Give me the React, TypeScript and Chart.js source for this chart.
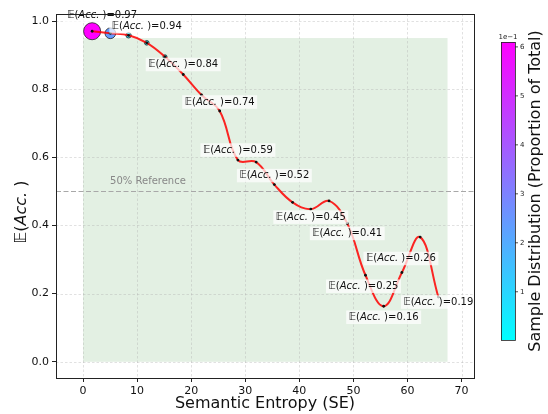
import React, { useEffect, useRef } from 'react';
import { Chart, registerables } from 'chart.js';
Chart.register(...registerables);

// ---- data ----
const seCenters = [1.68, 5.05, 8.42, 11.79, 15.16, 18.53, 21.9, 25.27, 28.64, 32.01, 35.38, 38.75, 42.12, 45.49, 48.86, 52.23, 55.6, 58.97, 62.34, 65.71];
const accValues = [0.97, 0.964, 0.958, 0.936, 0.895, 0.843, 0.783, 0.736, 0.592, 0.586, 0.52, 0.468, 0.448, 0.472, 0.406, 0.254, 0.163, 0.262, 0.366, 0.19];
const sampleShare = [0.61, 0.24, 0.061, 0.045, 0.034, 0.004, 0.003, 0.0025, 0.002, 0.002, 0.0018, 0.0018, 0.0017, 0.0016, 0.0016, 0.0015, 0.0015, 0.0015, 0.0015, 0.0015];
const labelIndices = [0, 3, 5, 7, 8, 10, 12, 14, 15, 16, 17, 19];
const xTicks = [0, 10, 20, 30, 40, 50, 60, 70];
const yTicks = [0, 0.2, 0.4, 0.6, 0.8, 1.0];
const cbTicks = [0.1, 0.2, 0.3, 0.4, 0.5, 0.6];
const cbTickLabels = ['1', '2', '3', '4', '5', '6'];
const regionX = [0, 67.4];
const regionYTop = 0.95;
const refY = 0.5;

// ---- styling ----
const FONT = '"DejaVu Sans", "Noto Sans", sans-serif';
const labelOffsets: number[][] = [[10, -16], [0, -16], [0, -10], [0, -9], [0, -10], [0, -9], [0, 8], [0, 10], [-2, 11], [0, 11], [-1, -14], [0, 5]];

const cbMin = Math.min(...sampleShare);
const cbMax = Math.max(...sampleShare);
function coolColor(v: number) {
  let t = (v - cbMin) / (cbMax - cbMin);
  t = Math.max(0, Math.min(1, t));
  return `rgb(${Math.round(255 * t)},${Math.round(255 * (1 - t))},255)`;
}

function drawMath(ctx: CanvasRenderingContext2D, tail: string, size: number, cx: number, cy: number, box: boolean) {
  const fN = `${size}px ${FONT}`;
  const fI = `italic ${size}px ${FONT}`;
  const parts: [string, string][] = [['𝔼', fN], ['(', fN], ['Acc.', fI], [' )' + tail, fN]];
  const widths = parts.map(([t, f]) => { ctx.font = f; return ctx.measureText(t).width; });
  const total = widths.reduce((a, b) => a + b, 0);
  if (box) {
    const pad = 2.5, h = size + 3.5;
    ctx.fillStyle = 'rgba(255,255,255,0.72)';
    ctx.fillRect(cx - total / 2 - pad, cy - h / 2, total + 2 * pad, h);
  }
  let x = cx - total / 2;
  ctx.textBaseline = 'middle';
  ctx.textAlign = 'left';
  parts.forEach(([t, f], i) => {
    ctx.font = f;
    ctx.fillStyle = '#111';
    ctx.fillText(t, x, cy);
    x += widths[i];
  });
}

const decor = {
  id: 'decor',
  beforeDatasetsDraw(chart: any) {
    const { ctx, chartArea: a, scales } = chart;
    const x = scales.x, y = scales.y;
    ctx.save();
    ctx.beginPath();
    ctx.rect(a.left, a.top, a.right - a.left, a.bottom - a.top);
    ctx.clip();
    const x0 = x.getPixelForValue(regionX[0]), x1 = x.getPixelForValue(regionX[1]);
    const y0 = y.getPixelForValue(0), y1 = y.getPixelForValue(regionYTop);
    ctx.fillStyle = 'rgba(200,225,200,0.5)';
    ctx.fillRect(x0, y1, x1 - x0, y0 - y1);
    ctx.strokeStyle = 'rgba(170,170,170,0.45)';
    ctx.lineWidth = 0.8;
    ctx.setLineDash([2.5, 2]);
    xTicks.forEach(v => {
      const px = Math.round(x.getPixelForValue(v)) + 0.5;
      ctx.beginPath(); ctx.moveTo(px, a.top); ctx.lineTo(px, a.bottom); ctx.stroke();
    });
    yTicks.forEach(v => {
      const py = Math.round(y.getPixelForValue(v)) + 0.5;
      ctx.beginPath(); ctx.moveTo(a.left, py); ctx.lineTo(a.right, py); ctx.stroke();
    });
    const ry = Math.round(y.getPixelForValue(refY)) + 0.5;
    ctx.strokeStyle = '#a8a8a8';
    ctx.lineWidth = 1;
    ctx.setLineDash([5, 2.5]);
    ctx.beginPath(); ctx.moveTo(a.left, ry); ctx.lineTo(a.right, ry); ctx.stroke();
    ctx.setLineDash([]);
    ctx.fillStyle = '#888';
    ctx.font = `10px ${FONT}`;
    ctx.textBaseline = 'middle';
    ctx.textAlign = 'left';
    ctx.fillText('50% Reference', x.getPixelForValue(5), ry - 10);
    ctx.restore();
  },
  afterDatasetsDraw(chart: any) {
    const { ctx } = chart;
    const meta = chart.getDatasetMeta(0);
    ctx.save();
    labelIndices.forEach((idx, k) => {
      const pt = meta.data[idx];
      const [dx, dy] = labelOffsets[k];
      drawMath(ctx, '=' + (Math.round(accValues[idx] * 100) / 100).toFixed(2), 10, pt.x + dx, pt.y + dy, true);
    });
    ctx.restore();
  },
  afterDraw(chart: any) {
    const { ctx, chartArea: a } = chart;
    ctx.save();
    // frame
    ctx.strokeStyle = '#222';
    ctx.lineWidth = 1;
    ctx.strokeRect(Math.round(a.left) + 0.5, Math.round(a.top) + 0.5, Math.round(a.right - a.left), Math.round(a.bottom - a.top));
    // x title
    ctx.fillStyle = '#111';
    ctx.font = `16px ${FONT}`;
    ctx.textAlign = 'center';
    ctx.textBaseline = 'middle';
    ctx.fillText('Semantic Entropy (SE)', (a.left + a.right) / 2, 404);
    // y title
    ctx.save();
    ctx.translate(22, 212);
    ctx.rotate(-Math.PI / 2);
    drawMath(ctx, '', 16, 0, 0, false);
    ctx.restore();
    // colorbar
    const cbX = 501, cbY = 42, cbW = 14, cbH = 298;
    const g = ctx.createLinearGradient(0, cbY + cbH, 0, cbY);
    g.addColorStop(0, coolColor(cbMin));
    g.addColorStop(1, coolColor(cbMax));
    ctx.fillStyle = g;
    ctx.fillRect(cbX, cbY, cbW, cbH);
    ctx.strokeStyle = '#222';
    ctx.lineWidth = 0.8;
    ctx.strokeRect(cbX + 0.5, cbY + 0.5, cbW, cbH);
    ctx.font = `7px ${FONT}`;
    ctx.fillStyle = '#222';
    ctx.textAlign = 'left';
    ctx.textBaseline = 'middle';
    cbTicks.forEach((v, i) => {
      const py = cbY + cbH - (v - cbMin) / (cbMax - cbMin) * cbH;
      ctx.beginPath(); ctx.moveTo(cbX + cbW, py); ctx.lineTo(cbX + cbW + 3, py); ctx.stroke();
      ctx.fillText(cbTickLabels[i], cbX + cbW + 5, py);
    });
    ctx.textAlign = 'center';
    ctx.textBaseline = 'bottom';
    ctx.fillText('1e\u22121', cbX + cbW / 2, cbY - 1);
    // colorbar label
    ctx.save();
    ctx.translate(536, cbY + cbH / 2);
    ctx.rotate(-Math.PI / 2);
    ctx.font = `16px ${FONT}`;
    ctx.fillStyle = '#111';
    ctx.textAlign = 'center';
    ctx.textBaseline = 'middle';
    ctx.fillText('Sample Distribution (Proportion of Total)', 0, 0);
    ctx.restore();
    ctx.restore();
  },
};

export default function App() {
  const ref = useRef<HTMLCanvasElement | null>(null);
  useEffect(() => {
    if (!ref.current) return;
    const pts = seCenters.map((x, i) => ({ x, y: accValues[i] }));
    const chart = new Chart(ref.current, {
      type: 'line',
      data: {
        datasets: [
          {
            type: 'line',
            data: pts,
            order: 1,
            borderColor: 'rgba(255,0,0,0.85)',
            borderWidth: 2,
            tension: 0.4,
            fill: false,
            pointRadius: 1.4,
            pointBackgroundColor: '#111',
            pointBorderWidth: 0,
          } as any,
          {
            type: 'scatter',
            data: pts,
            order: 2,
            pointRadius: sampleShare.map(p => Math.max(0.5, 10.9 * Math.sqrt(p))),
            pointBackgroundColor: sampleShare.map(p => coolColor(p)),
            pointBorderColor: '#222',
            pointBorderWidth: 0.8,
            showLine: false,
          } as any,
        ],
      },
      options: {
        animation: false,
        responsive: false,
        events: [],
        layout: { padding: { top: 14, right: 74, left: 0, bottom: 0 } },
        plugins: { legend: { display: false }, tooltip: { enabled: false } },
        scales: {
          x: {
            type: 'linear',
            min: -5,
            max: 72.3,
            afterBuildTicks: (s: any) => { s.ticks = xTicks.map(v => ({ value: v })); },
            afterFit: (s: any) => { s.height = 36; },
            grid: { drawOnChartArea: false, drawTicks: true, tickLength: 4, tickColor: '#222' },
            border: { display: false },
            ticks: { padding: 3, color: '#111', font: { family: FONT, size: 11 }, maxRotation: 0, callback: (v: any) => String(v) },
          },
          y: {
            type: 'linear',
            min: -0.0476,
            max: 1.0206,
            afterBuildTicks: (s: any) => { s.ticks = yTicks.map(v => ({ value: v })); },
            afterFit: (s: any) => { s.width = 56; },
            grid: { drawOnChartArea: false, drawTicks: true, tickLength: 4, tickColor: '#222' },
            border: { display: false },
            ticks: { padding: 3, color: '#111', font: { family: FONT, size: 11 }, callback: (v: any) => Number(v).toFixed(1) },
          },
        },
      },
      plugins: [decor],
    });
    return () => chart.destroy();
  }, []);
  return (
    <div style={{ position: 'fixed', left: 0, top: 0, width: 548, height: 414, background: '#fff' }}>
      <canvas ref={ref} width={548} height={414} style={{ width: 548, height: 414 }} />
    </div>
  );
}
